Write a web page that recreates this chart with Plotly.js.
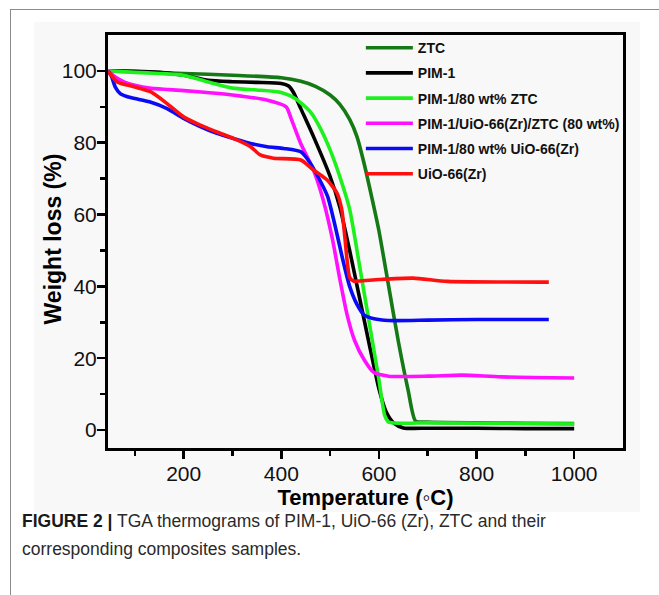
<!DOCTYPE html>
<html>
<head>
<meta charset="utf-8">
<script src="https://cdn.plot.ly/plotly-3.0.1.min.js"></script>
<style>
  html, body { margin:0; padding:0; background:#ffffff; width:659px; height:595px; overflow:hidden; }
  #frame { position:absolute; left:10px; top:9px; width:700px; height:700px; border-left:1px solid #8a8a8a; border-top:1px solid #8a8a8a; }
  #figbg { position:absolute; left:34px; top:22px; width:606px; height:490px; background:#f8f8f8; }
  #chart { position:absolute; left:0; top:0; width:659px; height:595px; }
  #caption { position:absolute; left:22px; top:507px; width:630px; font-family:"Liberation Sans", Arial, sans-serif; font-size:17.5px; line-height:28px; color:#2a2a2a; }
  #caption b { color:#1a1a1a; }
</style>
</head>
<body>
<div id="frame"></div>
<div id="figbg"></div>
<div id="chart"></div>
<div id="caption"><b>FIGURE 2 |</b> TGA thermograms of PIM-1, UiO-66 (Zr), ZTC and their<br>corresponding composites samples.</div>
<script>
// ---- data ----
const seriesNames = ["ZTC", "PIM-1", "PIM-1/80 wt% ZTC", "PIM-1/UiO-66(Zr)/ZTC (80 wt%)", "PIM-1/80 wt% UiO-66(Zr)", "UiO-66(Zr)"];

const ztcT = [45, 100, 200, 300, 400, 440, 470, 500, 520, 540, 555, 570, 585, 600, 620, 640, 660, 675, 700, 800, 900, 1000];
const ztcW = [100, 99.8, 99.3, 98.8, 98.1, 97.1, 95.7, 93.3, 90.7, 86.5, 81.7, 74, 65, 55.5, 40, 24.5, 11, 2.5, 2.2, 2.0, 1.9, 1.8];

const pimT = [45, 100, 150, 200, 250, 300, 350, 400, 415, 425, 440, 466, 500, 520, 540, 560, 580, 600, 615, 630, 650, 700, 800, 900, 1000];
const pimW = [100, 99.9, 99.6, 98.8, 97.4, 97.0, 96.8, 96.5, 95.8, 94, 89.5, 81.7, 70.6, 62, 50, 37, 24, 11.5, 5, 2, 0.6, 0.5, 0.5, 0.4, 0.4];

const pimZtcT = [45, 100, 150, 200, 250, 300, 350, 400, 430, 460, 480, 500, 520, 540, 560, 580, 600, 612, 620, 700, 800, 900, 1000];
const pimZtcW = [100, 99.6, 99.3, 98.8, 96.9, 95.2, 94.7, 94.0, 92.2, 88.5, 84, 78, 70.5, 61.5, 46, 30, 14, 4, 2.2, 2.0, 1.9, 1.8, 1.7];

const triT = [45, 60, 80, 100, 130, 170, 230, 300, 370, 410, 420, 440, 466, 486, 505, 520, 535, 550, 570, 590, 620, 700, 770, 850, 1000];
const triW = [100, 98.3, 96.8, 96.0, 95.2, 94.8, 94.2, 93.3, 91.9, 90.0, 86.8, 79.7, 72.4, 64, 53, 42, 32, 25, 19.5, 16, 15, 15, 15.3, 14.8, 14.5];

const pimUioT = [45, 52, 60, 70, 85, 100, 130, 166, 200, 234, 268, 302, 337, 371, 405, 440, 455, 475, 495, 510, 525, 540, 555, 570, 590, 620, 700, 800, 948];
const pimUioW = [100, 98.5, 95.5, 93.7, 92.8, 92.3, 91.4, 89.5, 86.8, 84.5, 82.6, 81.2, 79.8, 78.9, 78.4, 77.5, 75.2, 70.6, 65, 57, 48, 40, 35, 32, 31, 30.5, 30.6, 30.8, 30.8];

const uioT = [45, 64, 98, 132, 166, 200, 234, 268, 302, 337, 357, 384, 440, 466, 494, 514, 524, 530, 535, 540, 548, 560, 600, 670, 740, 948];
const uioW = [100, 96.9, 95.6, 94.2, 90.9, 87.2, 84.9, 83.0, 81.2, 78.9, 76.6, 75.7, 75.2, 72.4, 69.6, 66, 61.3, 54, 47, 42.5, 41.5, 41.5, 41.9, 42.3, 41.4, 41.2];

const xTickVals = [200, 400, 600, 800, 1000];
const yTickVals = [0, 20, 40, 60, 80, 100];
const xTitle = "Temperature (\u25E6C)";
const yTitle = "Weight loss (%)";

// ---- styles ----
const colors = ["#157a15", "#000000", "#1ef01e", "#ff10ff", "#0a0af5", "#ff1010"];
const xs = [ztcT, pimT, pimZtcT, triT, pimUioT, uioT];
const ys = [ztcW, pimW, pimZtcW, triW, pimUioW, uioW];

const traces = seriesNames.map((n, i) => ({
  x: xs[i], y: ys[i], name: n, type: "scatter", mode: "lines",
  legendgroup: "g" + i,
  line: { color: colors[i], width: 3.6, shape: "spline", smoothing: 0.6 }
}));

const font = "Liberation Sans, Arial, sans-serif";
const layout = {
  width: 659, height: 595,
  margin: { l: 108, r: 36, t: 35, b: 147, pad: 0 },
  paper_bgcolor: "rgba(0,0,0,0)",
  plot_bgcolor: "rgba(0,0,0,0)",
  font: { family: font, color: "#111" },
  showlegend: true,
  legend: {
    x: 0.491, y: 1.007, xanchor: "left", yanchor: "top",
    bgcolor: "rgba(0,0,0,0)", borderwidth: 0,
    font: { family: font, size: 14, color: "#111", weight: "bold" },
    traceorder: "grouped", tracegroupgap: 4, itemwidth: 47
  },
  xaxis: {
    range: [45, 1100], tickvals: xTickVals, ticktext: xTickVals.map(String),
    ticks: "outside", ticklen: 8, tickwidth: 2.5, tickcolor: "#000",
    ticklabelstandoff: -3,
    minor: { tickvals: [100, 300, 500, 700, 900], ticks: "outside", ticklen: 5, tickwidth: 2.5, tickcolor: "#000" },
    showline: true, linecolor: "#000", linewidth: 3, mirror: true,
    showgrid: false, zeroline: false,
    tickfont: { family: font, size: 21, color: "#111" },
    title: { text: xTitle, font: { family: font, size: 22, color: "#000", weight: "bold" }, standoff: 2 }
  },
  yaxis: {
    range: [-5, 110], tickvals: yTickVals, ticktext: yTickVals.map(String),
    ticks: "outside", ticklen: 8, tickwidth: 2.5, tickcolor: "#000",
    ticklabelstandoff: -4,
    minor: { tickvals: [10, 30, 50, 70, 90], ticks: "outside", ticklen: 5, tickwidth: 2.5, tickcolor: "#000" },
    showline: true, linecolor: "#000", linewidth: 3, mirror: true,
    showgrid: false, zeroline: false,
    tickfont: { family: font, size: 21, color: "#111" }
  },
  annotations: [{
    text: yTitle, xref: "paper", yref: "paper", x: -0.106, y: 0.506,
    xanchor: "center", yanchor: "middle", textangle: -90, showarrow: false,
    font: { family: font, size: 23, color: "#000", weight: "bold" }
  }]
};

Plotly.newPlot("chart", traces, layout, { staticPlot: true, displayModeBar: false });
</script>
</body>
</html>
